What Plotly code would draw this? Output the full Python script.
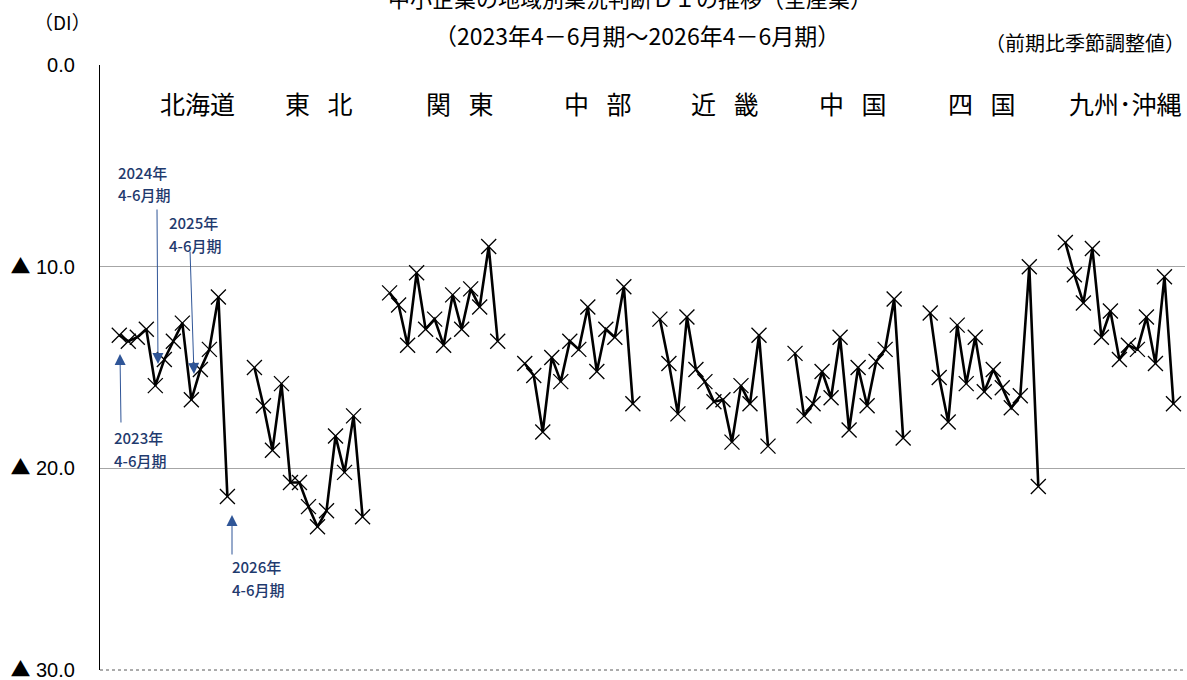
import plotly.graph_objects as go

regions = ["北海道", "東\u2002\u2009北", "関\u2002\u2009東", "中\u2002\u2009部", "近\u2002\u2009畿",
           "中\u2002\u2009国", "四\u2002\u2009国", "九州･沖縄"]
quarters = ["2023年4-6月期", "2023年7-9月期", "2023年10-12月期", "2024年1-3月期",
            "2024年4-6月期", "2024年7-9月期", "2024年10-12月期", "2025年1-3月期",
            "2025年4-6月期", "2025年7-9月期", "2025年10-12月期", "2026年1-3月期",
            "2026年4-6月期"]

# DI values (negative, plotted as magnitude on reversed axis; ▲ = minus)
hokkaido = [13.4, 13.7, 13.5, 13.1, 15.9, 14.6, 13.7, 12.8, 16.6, 15.1, 14.1, 11.5, 21.4]
tohoku   = [15.0, 16.9, 19.1, 15.8, 20.7, 20.7, 21.9, 22.9, 22.1, 18.4, 20.2, 17.4, 22.4]
kanto    = [11.3, 11.9, 13.9, 10.3, 13.1, 12.6, 13.9, 11.4, 13.1, 11.1, 12.0, 9.0, 13.7]
chubu    = [14.8, 15.4, 18.2, 14.5, 15.7, 13.7, 14.1, 12.0, 15.2, 13.1, 13.5, 11.0, 16.8]
kinki    = [12.6, 14.8, 17.3, 12.5, 15.1, 15.7, 16.7, 16.6, 18.7, 15.9, 16.8, 13.4, 18.9]
chugoku  = [14.3, 17.4, 16.8, 15.2, 16.5, 13.5, 18.1, 15.0, 16.9, 14.7, 14.1, 11.6, 18.5]
shikoku  = [12.3, 15.5, 17.7, 12.9, 15.8, 13.5, 16.2, 15.1, 16.0, 17.0, 16.4, 10.0, 20.9]
kyushu   = [8.8, 10.4, 11.8, 9.1, 13.5, 12.2, 14.6, 13.9, 14.1, 12.5, 14.8, 10.5, 16.8]

series = [hokkaido, tohoku, kanto, chubu, kinki, chugoku, shikoku, kyushu]

TRI = "<span style='font-family:Noto Sans CJK JP'>▲</span> "
y_tickvals = [0, 10, 20, 30]
y_ticktext = ["0.0", TRI + "10.0", TRI + "20.0", TRI + "30.0"]

GROUP = 15  # slots per region (13 quarters + gap)

xs, ys, texts = [], [], []
for r, vals in enumerate(series):
    for i, v in enumerate(vals):
        xs.append(r * GROUP + i)
        ys.append(v)
        texts.append(f"{regions[r]} {quarters[i]}")
    xs.append(None)
    ys.append(None)
    texts.append(None)

W, H = 1187, 680
L, R, T, B = 100, 2, 65, 10
PW = W - L - R
PH = H - T - B

def px(x):
    return (x - L) / PW

def py(y):
    return (H - B - y) / PH

fig = go.Figure()
fig.add_trace(go.Scatter(
    x=xs, y=ys, text=texts, mode="lines+markers",
    line=dict(color="black", width=2.6),
    marker=dict(symbol="x-thin-open", size=15, color="black",
                line=dict(color="black", width=1.3)),
    connectgaps=False, showlegend=False, hoverinfo="text+y",
))

fig.update_layout(
    width=W, height=H,
    margin=dict(l=L, r=R, t=T, b=B, autoexpand=False),
    paper_bgcolor="white", plot_bgcolor="white",
    font=dict(family="Liberation Sans, Noto Sans CJK JP", color="black"),
    xaxis=dict(range=[-2.14, 118.28], showgrid=False, zeroline=False,
               showticklabels=False, ticks="", showline=False, automargin=False),
    yaxis=dict(range=[30, 0], tickvals=y_tickvals, ticktext=y_ticktext,
               showgrid=True, gridcolor="#a6a6a6", gridwidth=1,
               zeroline=False, showline=True, linecolor="black", linewidth=1.2,
               ticks="", ticklabelstandoff=20, ticklabeloverflow="allow",
               automargin=False,
               tickfont=dict(size=20, family="Liberation Sans, Noto Sans CJK JP")),
)

# dotted bottom axis
fig.add_shape(type="line", xref="paper", yref="paper", x0=0, x1=1, y0=0, y1=0,
              line=dict(color="#595959", width=1, dash="dot"))

ann = []
cjk = "Noto Sans CJK JP"
# Titles
ann.append(dict(text="中小企業の地域別業況判断ＤＩの推移（全産業）", x=px(630), y=py(-3),
                xref="paper", yref="paper", showarrow=False,
                font=dict(size=22, family=cjk), xanchor="center", yanchor="middle"))
ann.append(dict(text="（2023年4－6月期～2026年4－6月期）", x=px(637), y=py(35),
                xref="paper", yref="paper", showarrow=False,
                font=dict(size=23, family=cjk), xanchor="center", yanchor="middle"))
ann.append(dict(text="（前期比季節調整値）", x=px(1187), y=py(43),
                xref="paper", yref="paper", showarrow=False,
                font=dict(size=20, family=cjk), xanchor="right", yanchor="middle"))
ann.append(dict(text="（DI）", x=px(62), y=py(22),
                xref="paper", yref="paper", showarrow=False,
                font=dict(size=19, family=cjk), xanchor="center", yanchor="middle"))

# Region labels
label_px = [197, 319, 460, 598, 725, 853, 982, 1125]
for name, lx in zip(regions, label_px):
    ann.append(dict(text=name, x=px(lx), y=py(103), xref="paper", yref="paper",
                    showarrow=False, font=dict(size=25, family=cjk),
                    xanchor="center", yanchor="middle"))

# Period annotations (text)
navy = "#1f3a6e"
arrow_c = "#2f5597"
notes = [("2024年", "4-6月期", 116, 172), ("2025年", "4-6月期", 167, 222),
         ("2023年", "4-6月期", 112, 437), ("2026年", "4-6月期", 230, 566)]
for l1, l2, tx, ty in notes:
    for k, t in enumerate([l1, l2]):
        ann.append(dict(text=t, x=px(tx), y=py(ty + 23 * k), xref="paper", yref="paper",
                        showarrow=False, font=dict(size=15, family=cjk, color=navy, weight=500),
                        xanchor="left", yanchor="middle"))

# Arrows (tip, tail in pixel)
arrows = [((158, 364), (157, 208)), ((194, 374), (190, 250)),
          ((120, 354), (121, 424)), ((232, 515), (232, 556))]
for (hx, hy), (tx, ty) in arrows:
    ann.append(dict(text="", x=px(hx), y=py(hy), xref="paper", yref="paper",
                    ax=tx - hx, ay=ty - hy, showarrow=True, arrowhead=2,
                    arrowsize=2.2, arrowwidth=1, arrowcolor=arrow_c, standoff=0))

fig.update_layout(annotations=ann)
fig.write_html("out.html", config={"displayModeBar": False},
               post_script="document.body.style.margin='0px';document.body.style.overflow='hidden';")
